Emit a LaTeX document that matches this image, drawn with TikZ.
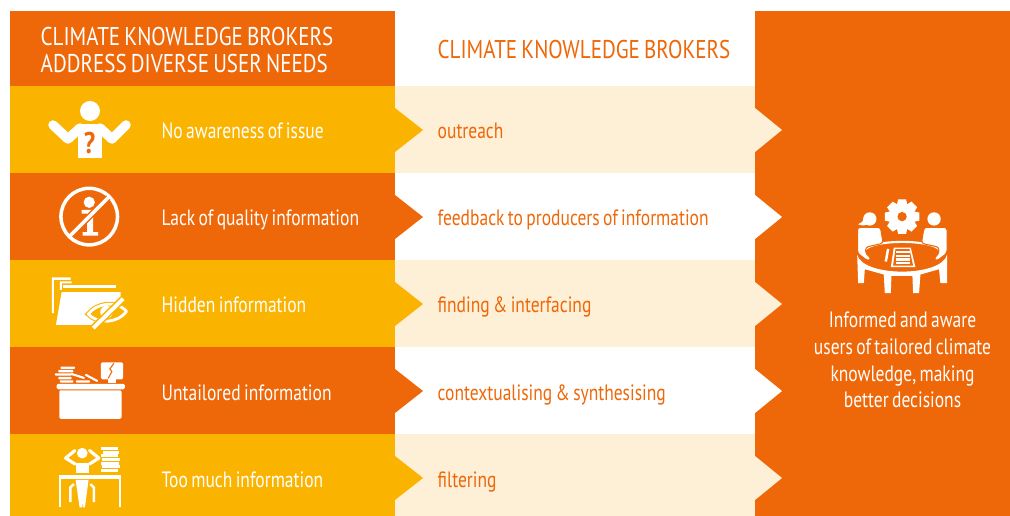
\documentclass[tikz,border=0pt]{standalone}
\usepackage{fontspec}
\setmainfont[FakeStretch=0.84]{PT Sans}
\newfontfamily\rowfont[FakeStretch=0.79,WordSpace=0.72]{PT Sans}
\newfontfamily\capsfont[FakeStretch=0.82,WordSpace=0.75]{PT Sans}
\definecolor{brokerorange}{HTML}{EE6708}
\definecolor{brokeryellow}{HTML}{FAB400}
\definecolor{brokercream}{HTML}{FEEFD7}
\tikzset{
	headtext/.style={anchor=west, text=white, font=\capsfont\fontsize{7.3pt}{7.7pt}\selectfont, align=left, inner sep=0pt},
	midhead/.style={anchor=west, text=brokerorange, font=\capsfont\fontsize{7.3pt}{7.7pt}\selectfont, inner sep=0pt},
	needtext/.style={anchor=base west, text=white, font=\rowfont\fontsize{6.3pt}{7pt}\selectfont, inner sep=0pt},
	rolentext/.style={anchor=base west, text=brokerorange, font=\rowfont\fontsize{6.3pt}{7pt}\selectfont, inner sep=0pt},
	usertext/.style={text=white, font=\rowfont\fontsize{6.3pt}{7.6pt}\selectfont, align=center, inner sep=0pt},
	iconpart/.style={fill=white, draw=none},
	iconline/.style={draw=white, line cap=round, line join=round},
	zoomed/.style={x=0.003333cm, y=-0.003333cm}
}
\begin{document}
\begin{tikzpicture}[x=0.01cm, y=-0.01cm]
	\useasboundingbox (0,0) rectangle (1010,516);

	% columns and rows
	\fill [brokerorange] (10,11) rectangle (395,86);
	\fill [brokerorange] (755,11) rectangle (1010,516);
	\fill [brokeryellow] (10,86) rectangle (395,173);
	\fill [brokerorange] (10,173) rectangle (395,260);
	\fill [brokeryellow] (10,260) rectangle (395,347);
	\fill [brokerorange] (10,347) rectangle (395,434);
	\fill [brokeryellow] (10,434) rectangle (395,516);
	\fill [brokercream] (395,86) rectangle (755,173);
	\fill [brokercream] (395,260) rectangle (755,347);
	\fill [brokercream] (395,434) rectangle (755,516);

	% chevrons
	\foreach \y/\c/\m in {130/brokeryellow/brokercream, 217/brokerorange/white, 304/brokeryellow/brokercream, 391/brokerorange/white, 478/brokeryellow/brokercream} {
		\fill [\c] (395,\y-22) -- (423,\y) -- (395,\y+22) -- cycle;
		\fill [\m] (755,\y-22) -- (782,\y) -- (755,\y+22) -- cycle;
	}

	% texts
	\node at (40,50) [headtext] (needshead) {CLIMATE KNOWLEDGE BROKERS\\ADDRESS DIVERSE USER NEEDS};
	\node at (437,50) [midhead] (brokershead) {CLIMATE KNOWLEDGE BROKERS};
	\node at (161,139) [needtext] (need1) {No awareness of issue};
	\node at (161,226) [needtext] (need2) {Lack of quality information};
	\node at (161,313) [needtext] (need3) {Hidden information};
	\node at (161,400) [needtext] (need4) {Untailored information};
	\node at (161,487) [needtext] (need5) {Too much information};
	\node at (437,139) [rolentext] (role1) {outreach};
	\node at (437,226) [rolentext] (role2) {feedback to producers of information};
	\node at (437,313) [rolentext] (role3) {finding \& interfacing};
	\node at (437,400) [rolentext] (role4) {contextualising \& synthesising};
	\node at (437,487) [rolentext] (role5) {filtering};
	\node at (902.5,360) [usertext] (users) {Informed and aware\\users of tailored climate\\knowledge, making\\better decisions};

	% shrugging person
	\fill [white] (90,111) circle [radius=10];
	\fill [white] (78,124) -- (102,124) -- (102,158) -- (78,158) -- cycle;
	\draw [iconline, line width=2.7pt] (53,125) -- (68,139) -- (80,128);
	\draw [iconline, line width=2.7pt] (126,125) -- (112,139) -- (100,128);
	\node at (89.5,143) [text=brokerorange, inner sep=0pt, font=\fontsize{8.5pt}{9pt}\bfseries\selectfont] (shrug) {?};

	% no information
	\begin{scope}[shift={(30,175)}, zoomed]
		\draw [white, line width=1pt] (178,125) circle [radius=85];
		\fill [iconpart] (178,82) circle [radius=17];
		\fill [iconpart] (155,105) -- (190,105) -- (190,172) -- (205,172) -- (205,182) -- (158,182) -- (158,172) -- (172,172) -- (172,116) -- (155,116) -- cycle;
		\draw [brokerorange, line width=1.8pt] (125,178) -- (235,68);
		\draw [white, line width=1pt] (120,183) -- (240,63);
	\end{scope}

	% hidden folder
	\begin{scope}[shift={(30,175)}, zoomed]
		\fill [iconpart] (66,308) -- (122,308) -- (122,315) -- (72,315) -- (72,415) -- (66,415) -- cycle;
		\fill [iconpart] (90,320) -- (125,320) -- (125,326) -- (96,326) -- (96,345) -- (90,345) -- cycle;
		\fill [iconpart] (100,330) rectangle (258,340);
		\fill [iconpart] (95,352) -- (272,352) -- (272,385) -- (190,450) -- (78,450) -- cycle;
		\path [fill=brokeryellow, draw=brokeryellow, line width=1.4pt] (175,418) .. controls (200,385) and (260,375) .. (290,410) .. controls (265,445) and (205,450) .. cycle;
		\draw [white, line width=0.8pt, line join=round] (175,418) .. controls (200,385) and (260,375) .. (290,410) .. controls (265,445) and (205,450) .. cycle;
		\fill [iconpart] (230,412) circle [radius=19];
		\draw [brokeryellow, line width=2pt] (190,460) -- (280,372);
		\draw [white, line width=1.1pt] (190,460) -- (280,372);
	\end{scope}

	% messy desk
	\begin{scope}[shift={(30,345)}, zoomed]
		\fill [iconpart, rounded corners=0.4pt] (80,117) rectangle (285,133);
		\fill [iconpart, rounded corners=0.4pt] (88,136) rectangle (275,222);
		\fill [iconpart, rounded corners=0.2pt] (92,65) rectangle (135,72);
		\fill [iconpart, rounded corners=0.2pt] (85,75) rectangle (130,82);
		\fill [iconpart, rounded corners=0.2pt] (75,85) rectangle (125,92);
		\fill [iconpart, rounded corners=0.2pt] (85,96) rectangle (125,103);
		\fill [iconpart, rounded corners=0.2pt] (90,106) rectangle (130,113);
		\fill [iconpart, rounded corners=0.2pt] (138,106) rectangle (180,113);
		\draw [iconline, line width=0.6pt] (125,87) -- (162,99);
		\draw [iconline, line width=0.6pt] (168,90) -- (202,108);
		\fill [iconpart, rounded corners=0.4pt] (213,52) rectangle (280,103);
		\fill [iconpart] (235,103) rectangle (258,113);
		\draw [brokerorange, line width=0.3pt] (252,55) -- (240,72) -- (246,80) -- (235,100);
	\end{scope}

	% overloaded person
	\begin{scope}[shift={(30,345)}, zoomed]
		\fill [iconpart] (157,325) circle [radius=16];
		\draw [iconline, line width=0.9pt] (135,317) -- (107,340) -- (136,358);
		\draw [iconline, line width=0.9pt] (179,317) -- (207,340) -- (178,358);
		\fill [iconpart] (137,355) -- (176,355) -- (176,386) -- (137,386) -- cycle;
		\fill [iconpart] (87,390) rectangle (272,402);
		\fill [iconpart] (87,390) rectangle (93,488);
		\fill [iconpart] (266,390) rectangle (272,488);
		\fill [iconpart] (137,405) -- (176,405) -- (165,488) -- (158,488) -- (157,450) -- (156,488) -- (149,488) -- cycle;
		\draw [white, line width=0.7pt] (121,472) -- (121,428) -- (132,418);
		\draw [white, line width=0.7pt] (192,472) -- (192,428) -- (181,418);
		\foreach \y/\a/\b in {307/213/265, 318/218/268, 329/213/265, 340/215/270, 351/212/267, 362/216/270, 374/212/265} {
			\fill [iconpart] (\a,\y) rectangle (\b,\y+9);
		}
	\end{scope}

	% meeting
	\begin{scope}[shift={(750,190)}, zoomed]
		\fill [iconpart] (457,80) circle [radius=38];
		\foreach \a in {0,45,...,315} {
			\fill [iconpart, rotate around={\a:(457,80)}] (445,28) -- (469,28) -- (474,50) -- (440,50) -- cycle;
		}
		\fill [brokerorange] (457,80) circle [radius=14];
		\fill [iconpart] (360,87) circle [radius=20];
		\fill [iconpart] (342,82) .. controls (340,95) and (335,100) .. (325,103) .. controls (340,110) and (352,105) .. (355,100) -- cycle;
		\fill [iconpart] (553,87) circle [radius=20];
		% table with legs
		\fill [iconpart] (322,195) .. controls (340,262) and (574,262) .. (592,195) -- (592,280) -- (572,280) -- (568,238) -- (512,254) -- (508,310) -- (490,310) -- (488,258) -- (425,258) -- (423,310) -- (405,310) -- (402,254) -- (345,238) -- (342,280) -- (325,280) -- cycle;
		\fill [brokerorange] (334,190) .. controls (340,252) and (574,252) .. (580,190) -- cycle;
		\draw [white, line width=0.6pt] (345,180) .. controls (370,148) and (545,148) .. (570,180);
		% two sitting figures
		\fill [iconpart, rounded corners=0.8pt, draw=brokerorange, line width=0.3pt] (323,112) -- (392,112) -- (400,160) -- (347,172) -- (348,192) -- (365,205) -- (355,214) -- (323,190) -- cycle;
		\fill [iconpart, rounded corners=0.8pt, draw=brokerorange, line width=0.3pt] (592,112) -- (523,112) -- (515,160) -- (568,172) -- (567,192) -- (552,205) -- (560,214) -- (592,190) -- cycle;
		% paper and pen
		\fill [iconpart] (432,173) -- (483,173) -- (497,232) -- (423,232) -- cycle;
		\fill [brokerorange] (437,178) -- (479,178) -- (490,227) -- (430,227) -- cycle;
		\foreach \y in {185,197,209,220} {
			\draw [white, line width=0.6pt] (438,\y) -- (482,\y);
		}
		\draw [white, line width=0.7pt] (415,177) -- (408,215);
	\end{scope}
\end{tikzpicture}
\end{document}
